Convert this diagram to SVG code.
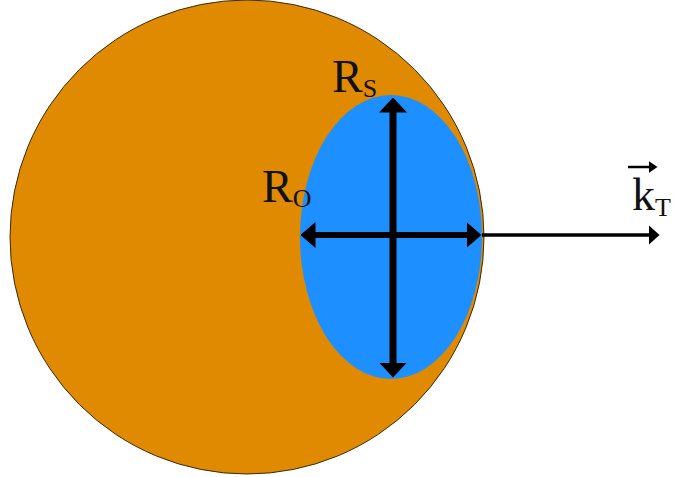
<svg xmlns="http://www.w3.org/2000/svg" width="673" height="477" viewBox="0 0 673 477">
<style>
.lbl{font-family:"Liberation Serif",serif;fill:#111}
.big{font-size:46px}
.sub{font-size:26px}
.thick{stroke:#000;stroke-width:7;fill:none}
.mid{stroke:#000;stroke-width:6;fill:none}
.thin{stroke:#000;stroke-width:3.5;fill:none}
</style>
<defs>
<marker id="ahV" viewBox="0 0 15 28" refX="0.5" refY="14" markerWidth="15" markerHeight="28" orient="auto-start-reverse" markerUnits="userSpaceOnUse">
<path d="M0,0 L15,14 L0,28 z" fill="#000"/>
</marker>
<marker id="ahH" viewBox="0 0 15 26" refX="0.5" refY="13" markerWidth="15" markerHeight="26" orient="auto-start-reverse" markerUnits="userSpaceOnUse">
<path d="M0,0 L15,13 L0,26 z" fill="#000"/>
</marker>
<marker id="ahT" viewBox="0 0 11 20" refX="0.5" refY="10" markerWidth="11" markerHeight="20" orient="auto" markerUnits="userSpaceOnUse">
<path d="M0,0 L11,10 L0,20 z" fill="#000"/>
</marker>
<marker id="ahK" viewBox="0 0 9 12" refX="0.5" refY="6" markerWidth="9" markerHeight="12" orient="auto" markerUnits="userSpaceOnUse">
<path d="M0,0 L9,6 L0,12 z" fill="#000"/>
</marker>
<clipPath id="cc"><circle cx="247" cy="237" r="237"/></clipPath>
</defs>
<g id="outer">
<circle cx="247" cy="237" r="237" fill="#DF8A00" stroke="#3a2a10" stroke-width="1"/>
</g>
<g id="inner">
<ellipse cx="391" cy="237" rx="91" ry="142" fill="#1E8FFF" clip-path="url(#cc)"/>
</g>
<g id="connectors">
<line class="thick" x1="393" y1="112" x2="393" y2="363" marker-start="url(#ahV)" marker-end="url(#ahV)"/>
<line class="mid" x1="315" y1="235" x2="467" y2="235" marker-start="url(#ahH)" marker-end="url(#ahH)"/>
<line class="thin" x1="482" y1="235" x2="649" y2="235" marker-end="url(#ahT)"/>
<line stroke="#000" stroke-width="2.5" x1="628" y1="167" x2="649" y2="167" marker-end="url(#ahK)"/>
</g>
<g id="labels">
<text class="lbl" x="332" y="92"><tspan class="big">R</tspan><tspan class="sub" dy="5">S</tspan></text>
<text class="lbl" x="262" y="202"><tspan class="big">R</tspan><tspan class="sub" dy="5">O</tspan></text>
<text class="lbl" x="632" y="210"><tspan class="big">k</tspan><tspan class="sub" dy="6">T</tspan></text>
</g>
</svg>
